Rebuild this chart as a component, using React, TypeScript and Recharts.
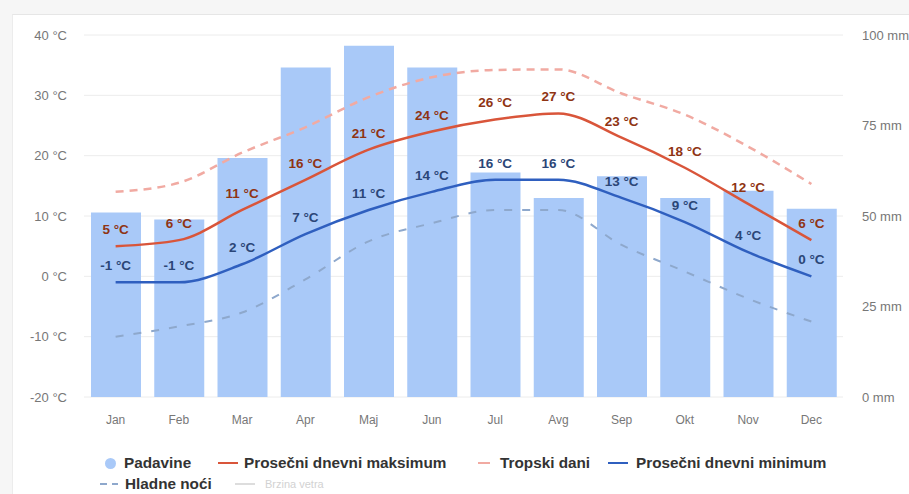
import { ComposedChart, Bar, Line, XAxis, YAxis, CartesianGrid, LabelList } from 'recharts';

// Monthly climate values
const months = ['Jan', 'Feb', 'Mar', 'Apr', 'Maj', 'Jun', 'Jul', 'Avg', 'Sep', 'Okt', 'Nov', 'Dec'];
const padavine = [51, 49, 66, 91, 97, 91, 62, 55, 61, 55, 57, 52];
const maksimum = [5, 6, 11, 16, 21, 24, 26, 27, 23, 18, 12, 6];
const minimum = [-1, -1, 2, 7, 11, 14, 16, 16, 13, 9, 4, 0];
const tropskiDani = [14, 15.5, 20.5, 24.7, 29.7, 33, 34.2, 34.3, 30.3, 26.8, 21.5, 15.3];
const hladneNoci = [-10, -8.3, -6, -0.5, 5.8, 8.8, 11, 11, 5.2, 0.8, -3.7, -7.5];

const tempTicks = [-20, -10, 0, 10, 20, 30, 40];
const rainTicks = [0, 25, 50, 75, 100];

const data = months.map((m, i) => ({
  month: m,
  padavine: padavine[i],
  max: maksimum[i],
  min: minimum[i],
  tropski: tropskiDani[i],
  hladne: hladneNoci[i],
}));

const COLORS = {
  bar: '#a9c9f8',
  max: '#d9553a',
  min: '#2f5fbf',
  tropski: '#f1aaa2',
  hladne: '#8ea8cc',
  wind: '#dddddd',
};

const font = '"Liberation Sans", Arial, sans-serif';

// legend marker, placed by hand like the original legend row
function Marker({ x, y, children }: { x: number; y: number; children: React.ReactNode }) {
  return (
    <div style={{ position: 'absolute', left: x, top: y - 10, height: 20, display: 'flex', alignItems: 'center' }}>
      {children}
    </div>
  );
}

const lineIcon = (color: string, w: number, dashed?: boolean) => (
  <svg width={w} height={6} style={{ display: 'block' }}>
    <line x1={0} y1={3} x2={w} y2={3} stroke={color} strokeWidth={2} strokeDasharray={dashed ? '7 5' : undefined} />
  </svg>
);

const label = (x: number, y: number, text: string, faded?: boolean) => (
  <div style={{ position: 'absolute', left: x, top: y - 10, height: 20, lineHeight: '20px', whiteSpace: 'nowrap', color: faded ? '#d2d2d2' : '#333', fontWeight: faded ? 400 : 700, fontSize: faded ? 11 : 15.3 }}>
    {text}
  </div>
);

export default function App() {
  return (
    <div style={{ position: 'absolute', left: 0, top: 0, width: 909, height: 494, background: '#f6f6f6', overflow: 'hidden', fontFamily: font }}>
      <div style={{ position: 'absolute', left: 12, top: 14, width: 920, height: 500, background: '#fff', borderTop: '1px solid #e6e6e6', borderLeft: '1px solid #ececec' }} />
      <div style={{ position: 'absolute', left: 0, top: 0 }}>
        <ComposedChart width={909} height={494} data={data} margin={{ top: 35, right: 0, left: 0, bottom: 67 }} barSize={50}>
          <CartesianGrid yAxisId="temp" vertical={false} stroke="#ececec" />
          <XAxis dataKey="month" height={30} axisLine={false} tickLine={false} tickSize={0} tickMargin={18} tick={{ fill: '#777', fontSize: 12 }} />
          <YAxis
            yAxisId="temp"
            orientation="left"
            width={84}
            domain={[-20, 40]}
            ticks={tempTicks}
            axisLine={false}
            tickLine={false}
            tickSize={0}
            tickMargin={17}
            tick={{ fill: '#777', fontSize: 13 }}
            tickFormatter={(v) => `${v} °C`}
          />
          <YAxis
            yAxisId="rain"
            orientation="right"
            width={66}
            domain={[0, 100]}
            ticks={rainTicks}
            axisLine={false}
            tickLine={false}
            tickSize={0}
            tickMargin={19}
            tick={{ fill: '#777', fontSize: 13, textAnchor: 'start' }}
            tickFormatter={(v) => `${v} mm`}
          />
          <Bar yAxisId="rain" dataKey="padavine" fill={COLORS.bar} isAnimationActive={false} />
          <Line yAxisId="temp" type="monotone" dataKey="tropski" stroke={COLORS.tropski} strokeWidth={2.5} strokeDasharray="8 6" dot={false} isAnimationActive={false} />
          <Line yAxisId="temp" type="monotone" dataKey="hladne" stroke={COLORS.hladne} strokeWidth={2} strokeDasharray="8 10" dot={false} isAnimationActive={false} />
          <Line yAxisId="temp" type="monotone" dataKey="max" stroke={COLORS.max} strokeWidth={2.5} dot={false} isAnimationActive={false}>
            <LabelList
              dataKey="max"
              position="top"
              offset={12}
              formatter={(v: any) => `${v} °C`}
              fill="#8f3413"
              fontSize={13.5}
              fontWeight={700}
            />
          </Line>
          <Line yAxisId="temp" type="monotone" dataKey="min" stroke={COLORS.min} strokeWidth={2.5} dot={false} isAnimationActive={false}>
            <LabelList
              dataKey="min"
              position="top"
              offset={12}
              formatter={(v: any) => `${v} °C`}
              fill="#2b4677"
              fontSize={13.5}
              fontWeight={700}
            />
          </Line>
        </ComposedChart>
      </div>
      {/* legend */}
      <Marker x={105} y={463}><span style={{ display: 'block', width: 11, height: 11, borderRadius: 6, background: COLORS.bar }} /></Marker>
      {label(124, 463, 'Padavine')}
      <Marker x={218} y={463}>{lineIcon(COLORS.max, 20)}</Marker>
      {label(244, 463, 'Prosečni dnevni maksimum')}
      <Marker x={478} y={463}>{lineIcon(COLORS.tropski, 12)}</Marker>
      {label(500, 463, 'Tropski dani')}
      <Marker x={608} y={463}>{lineIcon(COLORS.min, 20)}</Marker>
      {label(636, 463, 'Prosečni dnevni minimum')}
      <Marker x={100} y={484}>{lineIcon(COLORS.hladne, 18, true)}</Marker>
      {label(125, 484, 'Hladne noći')}
      <Marker x={235} y={484}>{lineIcon(COLORS.wind, 20)}</Marker>
      {label(265, 484, 'Brzina vetra', true)}
    </div>
  );
}
